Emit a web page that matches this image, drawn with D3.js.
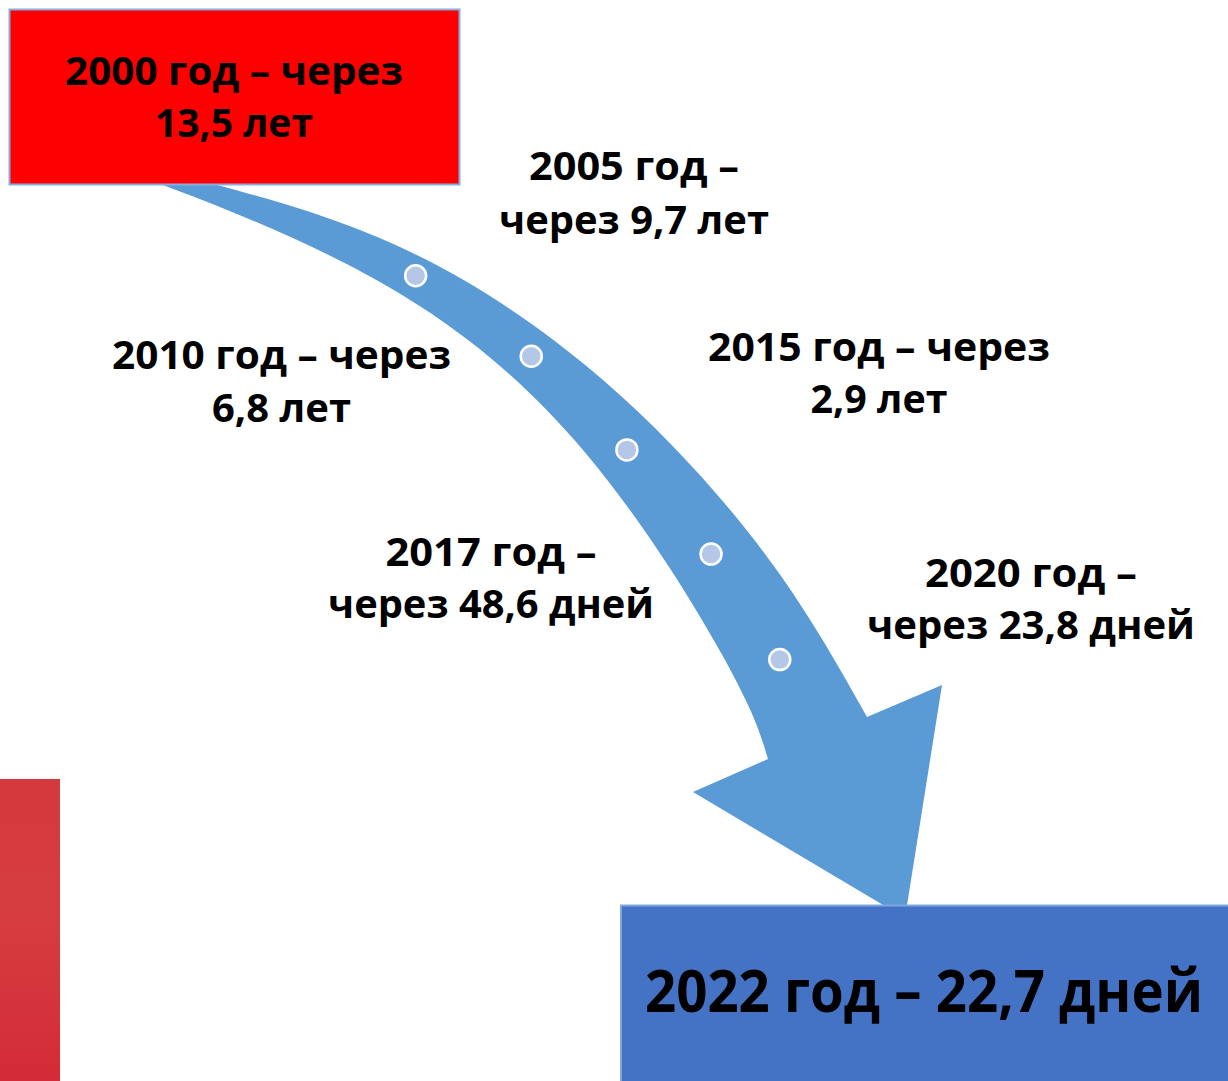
<!DOCTYPE html>
<html><head><meta charset="utf-8">
<script src="https://cdn.jsdelivr.net/npm/d3@7"></script>
<style>html,body{margin:0;padding:0;background:#fff;overflow:hidden}</style>
</head><body>
<svg id="c" width="1228" height="1081"></svg>
<script>
// ---- data ----
const years  = [2000, 2005, 2010, 2015, 2017, 2020, 2022];
const values = ["13,5", "9,7", "6,8", "2,9", "48,6", "23,8", "22,7"];
const units  = ["лет", "лет", "лет", "лет", "дней", "дней", "дней"];
// where the word "через" goes: "end" = end of line 1, "start" = start of line 2, "none" = single line
const breakMode = ["end", "start", "end", "end", "start", "start", "none"];

// ---- layout (positions / sizes) ----
const labelLayout = [
  {cx: 234,   base: [85, 137],  widths: [338, 158], size: 40},
  {cx: 634,   base: [180, 234], widths: [210, 270], size: 40},
  {cx: 281.5, base: [369, 422], widths: [339, 139], size: 40},
  {cx: 879,   base: [361, 413], widths: [342, 137], size: 40},
  {cx: 491,   base: [566, 618], widths: [211, 326], size: 40},
  {cx: 1031,  base: [587, 639], widths: [212, 328], size: 40},
  {cx: 924,   base: [1012],     widths: [558],      size: 59}
];
// arrow outline: lower/left edge, head, upper/right edge
const lowerEdge = [[110,166],[163,185],[380,282],[583,450],[725,660],[768,759]];
const upperEdge = [[160,168],[217,185],[400,247],[603,380],[765,554],[867,717]];
const head = [[693, 792], [905, 918], [942, 685]];
// track for the milestone dots (centre of the arrow)
const dotTrack = [[300,226],[416,276],[531,356],[627,450],[711,554],[780,660],[817,738]];

function labelLines(i) {
  const y = years[i], v = values[i], u = units[i];
  if (breakMode[i] === "end") return [`${y} год – через`, `${v} ${u}`];
  if (breakMode[i] === "start") return [`${y} год –`, `через ${v} ${u}`];
  return [`${y} год – ${v} ${u}`];
}

const svg = d3.select("#c");
const defs = svg.append("defs");
const grad = defs.append("linearGradient").attr("id", "strip").attr("x1", 0).attr("y1", 0).attr("x2", 0).attr("y2", 1);
grad.append("stop").attr("offset", "0%").attr("stop-color", "#d4393d");
grad.append("stop").attr("offset", "45%").attr("stop-color", "#d63d40");
grad.append("stop").attr("offset", "100%").attr("stop-color", "#d32b37");

// red strip at left bottom
svg.append("rect").attr("x", 0).attr("y", 779).attr("width", 60).attr("height", 302).attr("fill", "url(#strip)");

// ---- arrow ----
const smooth = d3.line().curve(d3.curveNatural);
const lowerD = smooth(lowerEdge);
const upperD = smooth(upperEdge.slice().reverse());
const headD = head.map(p => "L" + p[0] + "," + p[1]).join("");
const arrowD = lowerD + headD + "L" + upperD.slice(1) + "Z";
svg.append("path").attr("d", arrowD).attr("fill", "#5b9bd5");

// dots at intermediate milestones, placed along the arrow's centre track
const trackGen = d3.line().curve(d3.curveCatmullRom.alpha(0.5));
const trackEl = svg.append("path").attr("d", trackGen(dotTrack)).attr("fill", "none").node();
const tLen = trackEl.getTotalLength();
const samples = d3.range(0, tLen + 1, 1).map(l => { const p = trackEl.getPointAtLength(l); return {x: p.x, y: p.y, len: l}; });
function lenNearest(p) {
  let best = 0, bd = Infinity;
  samples.forEach(s => { const d = (s.x - p[0]) ** 2 + (s.y - p[1]) ** 2; if (d < bd) { bd = d; best = s.len; } });
  return best;
}
const mid = years.slice(1, 6);
const dotScale = d3.scaleOrdinal().domain(mid).range(dotTrack.slice(1, 6).map(lenNearest));
const dotPts = mid.map(y => { const p = trackEl.getPointAtLength(dotScale(y)); return {year: y, x: p.x, y: p.y}; });
d3.select(trackEl).remove();
svg.selectAll("circle.dot").data(dotPts).enter().append("circle").attr("class", "dot")
  .attr("cx", d => d.x).attr("cy", d => d.y)
  .attr("r", 10.5).attr("fill", "#b4c7e7").attr("stroke", "#fff").attr("stroke-width", 2.5);

// boxes
svg.append("rect").attr("x", 9.5).attr("y", 9.5).attr("width", 450).attr("height", 175)
  .attr("fill", "#ff0000").attr("stroke", "#86afe0").attr("stroke-width", 2);
svg.append("rect").attr("x", 621).attr("y", 905.5).attr("width", 700).attr("height", 300)
  .attr("fill", "#4472c4").attr("stroke", "#7fa6dd").attr("stroke-width", 2);

// labels
years.forEach((y, i) => {
  const L = labelLayout[i];
  labelLines(i).forEach((t, j) => {
    svg.append("text").attr("x", L.cx).attr("y", L.base[j])
      .attr("text-anchor", "middle")
      .attr("font-family", "'Open Sans', 'Noto Sans', sans-serif")
      .attr("font-weight", 700).attr("font-size", L.size).attr("fill", "#000")
      .attr("textLength", L.widths[j]).attr("lengthAdjust", "spacingAndGlyphs")
      .text(t);
  });
});
</script>
</body></html>
